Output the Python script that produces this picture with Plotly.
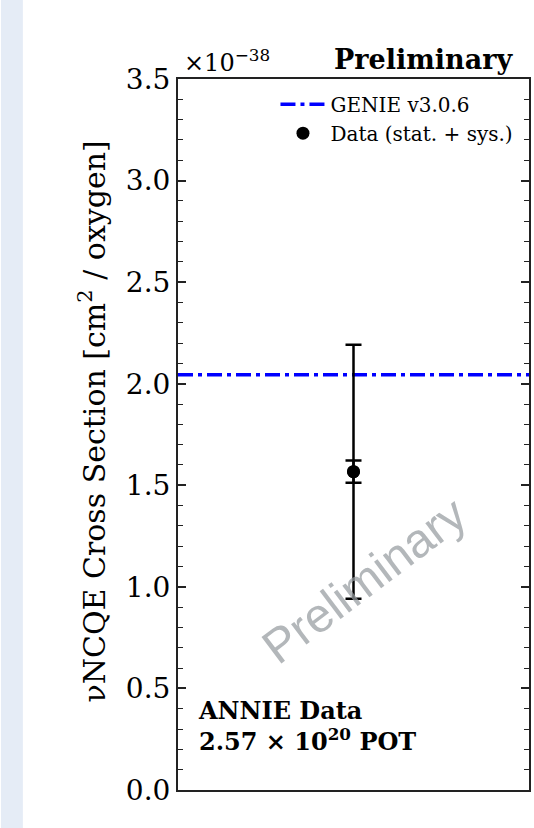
import plotly.graph_objects as go

# ---- data ----
categories = ["ANNIE"]
xs_value = [1.567]          # x 1e-38 cm^2 / oxygen
stat_err = [0.055]
total_err = [0.625]
genie_value = 2.044
y_ticks = [0.0, 0.5, 1.0, 1.5, 2.0, 2.5, 3.0, 3.5]
x_range = [-1, 1]
x_pos = [0]

SERIF = "DejaVu Serif"

fig = go.Figure()

# GENIE prediction line
fig.add_trace(go.Scatter(
    x=x_range, y=[genie_value, genie_value], mode="lines",
    name="GENIE v3.0.6",
    line=dict(color="#0000ff", width=3.5, dash="15px,5px,4px,5px"),
))

# Data with total (stat+sys) error
fig.add_trace(go.Scatter(
    x=x_pos, y=xs_value, mode="markers",
    name="Data (stat. + sys.)",
    marker=dict(color="black", size=13),
    error_y=dict(type="data", array=total_err, color="black", thickness=2.5, width=8),
))
# stat-only error
fig.add_trace(go.Scatter(
    x=x_pos, y=xs_value, mode="markers", showlegend=False,
    marker=dict(color="black", size=13),
    error_y=dict(type="data", array=stat_err, color="black", thickness=2.5, width=8),
))

fig.update_layout(
    width=534, height=828,
    margin=dict(l=178, r=3, t=79, b=38),
    paper_bgcolor="white", plot_bgcolor="white",
    font=dict(family=SERIF, color="black"),
    showlegend=True,
    legend=dict(x=0.97, xanchor="right", y=0.992, yanchor="top",
                bgcolor="rgba(0,0,0,0)", font=dict(family=SERIF, size=20, color="black"),
                itemwidth=45, tracegroupgap=0),
    xaxis=dict(range=x_range, showticklabels=False, ticks="", showgrid=False, zeroline=False,
               showline=True, mirror=True, linecolor="#222", linewidth=2),
    yaxis=dict(range=[0, 3.5], tickvals=y_ticks, tickformat=".1f", ticks="inside", ticklen=8,
               tickwidth=1.5, tickcolor="#222", showgrid=False, zeroline=False,
               showline=True, mirror=True, linecolor="#222", linewidth=2,
               tickfont=dict(family=SERIF, size=28, color="black"),
               minor=dict(dtick=0.1, ticks="inside", ticklen=5, tickwidth=1.2, tickcolor="#222", showgrid=False)),
    yaxis2=dict(range=[0, 3.5], overlaying="y", side="right", tickvals=y_ticks, ticks="inside",
                ticklen=8, tickwidth=1.5, tickcolor="#222", showticklabels=False, showgrid=False,
                zeroline=False,
                minor=dict(dtick=0.1, ticks="inside", ticklen=5, tickwidth=1.2, tickcolor="#222", showgrid=False)),
)

# dummy trace to activate the right axis
fig.add_trace(go.Scatter(x=[None], y=[None], yaxis="y2", showlegend=False, hoverinfo="skip"))

# left strip
fig.add_shape(type="rect", xref="paper", yref="paper", x0=-178/353, x1=-156/353, y0=-38/711, y1=828/711 - 38/711,
              fillcolor="#e5ecf6", line=dict(width=0), layer="below")

# y-axis title
fig.add_annotation(xref="paper", yref="paper", x=-86/353, y=(790 - 421) / 711, xanchor="center", yanchor="middle",
                   text="νNCQE Cross Section [cm<sup>2</sup> / oxygen]", textangle=-90, showarrow=False,
                   font=dict(family=SERIF, size=30, color="black"))

fig.add_annotation(xref="paper", yref="paper", x=0.01, y=1, xanchor="left", yanchor="bottom", yshift=0,
                   text="×10<sup>−38</sup>", showarrow=False, font=dict(family=SERIF, size=24, color="black"))
fig.add_annotation(xref="paper", yref="paper", x=0.96, y=1, xanchor="right", yanchor="bottom", yshift=2,
                   text="<b>Preliminary</b>", showarrow=False, font=dict(family=SERIF, size=27, color="black"))
fig.add_annotation(xref="paper", yref="paper", x=0.05, y=0.09, xanchor="left", yanchor="middle", align="left",
                   text="<b>ANNIE Data<br>2.57 × 10<sup>20</sup> POT</b>", showarrow=False,
                   font=dict(family=SERIF, size=24, color="black"))
fig.add_annotation(xref="paper", yref="paper", x=0.53, y=0.295, xanchor="center", yanchor="middle",
                   text="Preliminary", textangle=-37, showarrow=False,
                   font=dict(family="Liberation Sans", size=48, color="rgba(150,155,160,0.72)"))

fig.write_html("out.html", config={"displayModeBar": False},
               post_script="document.body.style.margin='0';document.body.style.overflow='hidden';")
